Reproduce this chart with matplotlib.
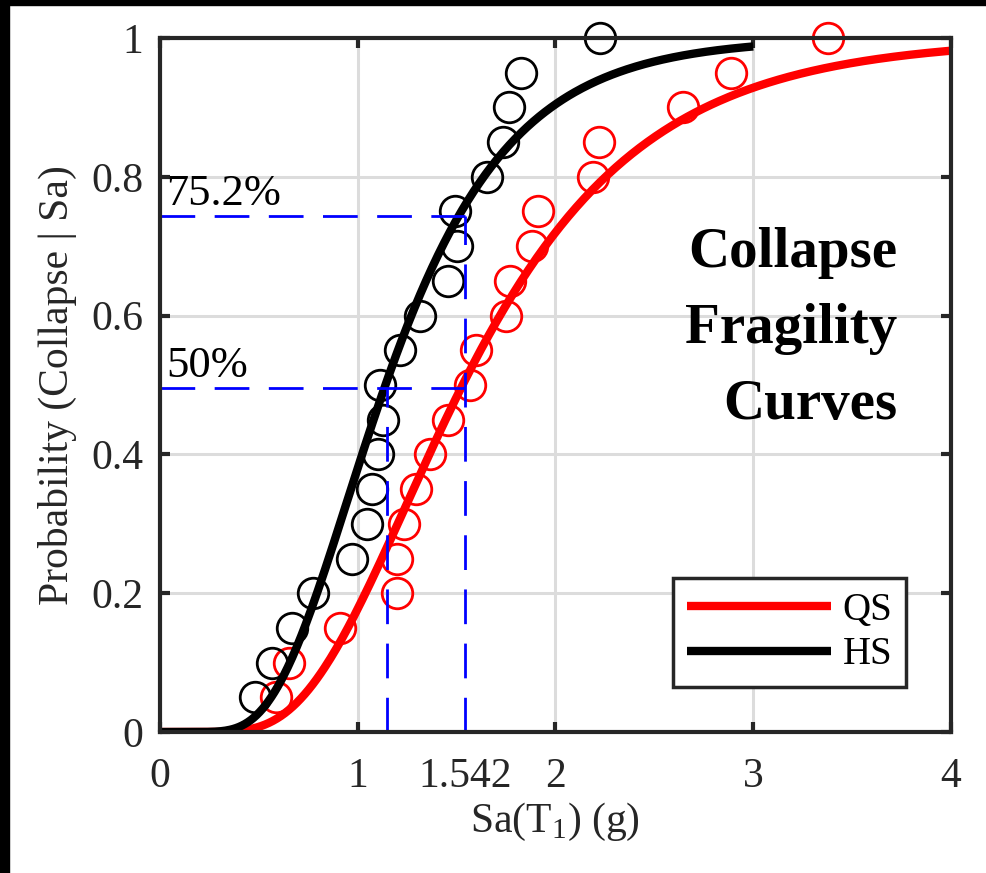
import math
import numpy as np
import matplotlib
matplotlib.use('Agg')
import matplotlib.pyplot as plt
from matplotlib.patches import Rectangle

plt.rcParams['font.family'] = ['Liberation Serif', 'DejaVu Serif']
plt.rcParams['mathtext.fontset'] = 'custom'
plt.rcParams['mathtext.rm'] = 'Liberation Serif'
plt.rcParams['lines.scale_dashes'] = False

# probabilidade empirica de colapso (20 registros)
prob = [0.05, 0.10, 0.15, 0.20, 0.25, 0.30, 0.35, 0.40, 0.45, 0.50,
        0.55, 0.60, 0.65, 0.70, 0.75, 0.80, 0.85, 0.90, 0.95, 1.00]
sa_hs = [0.48, 0.565, 0.669, 0.772, 0.969, 1.045, 1.07, 1.104, 1.126, 1.112,
         1.214, 1.315, 1.458, 1.50, 1.492, 1.652, 1.736, 1.767, 1.824, 2.225]
sa_qs = [0.585, 0.654, 0.910, 1.197, 1.201, 1.234, 1.295, 1.365, 1.458, 1.568,
         1.60, 1.75, 1.77, 1.88, 1.913, 2.188, 2.222, 2.643, 2.888, 3.376]

# curvas lognormais ajustadas (mediana, dispersao, Sa maximo)
hs_median, hs_beta, hs_max = 1.14, 0.43, 3.0
qs_median, qs_beta, qs_max = 1.53, 0.46, 4.0

# linhas de referencia
sa_50 = 1.148
sa_ref = 1.542
p_50 = 0.495
p_ref = 0.744


def lognorm_cdf(x, median, beta):
    out = np.zeros_like(x)
    pos = x > 0
    z = np.log(x[pos] / median) / beta
    out[pos] = 0.5 * (1 + np.array([math.erf(v / math.sqrt(2)) for v in z]))
    return out


fig = plt.figure(figsize=(9.87, 8.73), dpi=100)
ax = fig.add_axes([0.1621, 0.1615, 0.8014, 0.795])

# moldura preta (topo e esquerda) da imagem original
fig.patches.append(Rectangle((0, 1 - 5 / 873), 1, 5 / 873, transform=fig.transFigure,
                             color='black', zorder=10))
fig.patches.append(Rectangle((0, 0), 9 / 987, 1, transform=fig.transFigure,
                             color='black', zorder=10))

ax.plot(sa_qs, prob, 'o', mfc='none', mec='red', ms=22, mew=2, clip_on=False, zorder=3)
ax.plot(sa_hs, prob, 'o', mfc='none', mec='black', ms=22, mew=2, clip_on=False, zorder=3)

x_qs = np.linspace(0, qs_max, 400)
x_hs = np.linspace(0, hs_max, 400)
ax.plot(x_qs, lognorm_cdf(x_qs, qs_median, qs_beta), color='red', lw=6,
        label='QS', zorder=4, solid_capstyle='butt')
ax.plot(x_hs, lognorm_cdf(x_hs, hs_median, hs_beta), color='black', lw=6,
        label='HS', zorder=4, solid_capstyle='butt')

dash = dict(color='blue', lw=2, dashes=(25, 14), zorder=5)
ax.plot([0, sa_ref], [p_ref, p_ref], **dash)
ax.plot([sa_ref, sa_ref], [0, p_ref], **dash)
ax.plot([0, sa_ref], [p_50, p_50], **dash)
ax.plot([sa_50, sa_50], [0, p_50], **dash)

ax.text(0.03, 0.76, '75.2%', fontsize=32, va='baseline')
ax.text(0.03, 0.512, '50%', fontsize=32, va='baseline')
ax.text(3.73, 0.58, 'Collapse\nFragility\nCurves', fontsize=41, fontweight='bold',
        ha='right', va='center', multialignment='right', linespacing=1.6)

ax.set_xlim(0, 4)
ax.set_ylim(0, 1)
ax.set_xticks([0, 1, 2, 3, 4])
ax.set_xticklabels(['0', '1', '2', '3', '4'])
ax.set_xticks([sa_ref], labels=['1.542'], minor=True)
ax.set_yticks([0, 0.2, 0.4, 0.6, 0.8, 1])
ax.set_yticklabels(['0', '0.2', '0.4', '0.6', '0.8', '1'])
ax.tick_params(which='major', direction='in', length=7, width=3, top=True, right=True,
               labelsize=30, colors='#262626', pad=12)
ax.tick_params(axis='x', which='both', pad=18)
ax.tick_params(which='minor', length=0, labelsize=30, labelcolor='#262626')
ax.grid(True, which='major', color='#dcdcdc', lw=2.2)
ax.set_axisbelow(True)
for s in ax.spines.values():
    s.set_linewidth(3)
    s.set_color('#262626')
    s.set_zorder(6)

ax.set_xlabel('Sa(T$_1$) (g)', fontsize=30, color='#262626', labelpad=4)
ax.set_ylabel('Probability (Collapse | Sa)', fontsize=30, color='#262626', labelpad=10)

leg = ax.legend(loc='lower right', bbox_to_anchor=(0.943, 0.065), borderaxespad=0,
                fontsize=28, handlelength=3.7, handletextpad=0.3, labelspacing=0.2,
                fancybox=False, framealpha=1, borderpad=0.35)
leg.get_frame().set_edgecolor('#262626')
leg.get_frame().set_linewidth(2.5)
leg.set_zorder(7)

plt.savefig('out.png', dpi=100)
plt.close()
